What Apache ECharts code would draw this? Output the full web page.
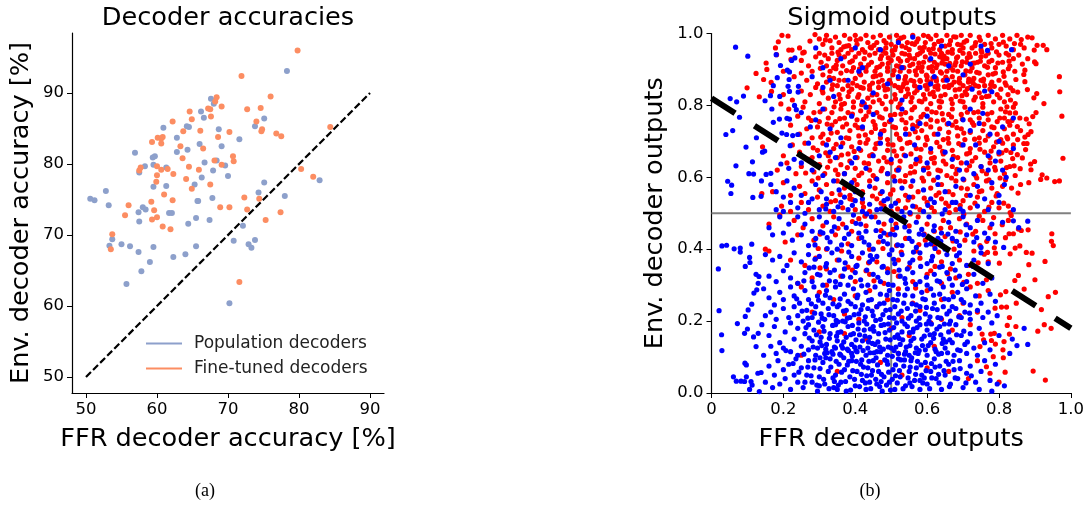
<!DOCTYPE html>
<html>
<head>
<meta charset="utf-8">
<script src="https://cdn.jsdelivr.net/npm/echarts@6/dist/echarts.min.js"></script>
<style>
html, body { margin: 0; padding: 0; background: #fff; }
#chart { width: 1087px; height: 506px; }
</style>
</head>
<body>
<div id="chart"></div>
<script>
// panel (a) values
const accTicks = [50, 60, 70, 80, 90];
const diagonal = [[50, 50], [90, 90]];
const population = [
[78.3,93.1],[67.6,89.2],[68,88.5],[66.2,87.4],[66.6,86.5],[75.1,86.4],[73.8,85.3],[64.2,85.3],[64.5,85.2],[60.9,85.1],
[68.7,84.9],[62.8,83.7],[71.6,83.5],[66,82.8],[69.1,82.5],[64.3,82],[62.8,81.7],[56.9,81.6],[59.7,81.1],[59.4,80.9],
[68.4,80.5],[66.7,80.2],[59.5,79.9],[58.3,79.7],[61.3,79.5],[69.6,79.8],[67.9,79.1],[57.5,78.8],[66.3,78.1],[70,78.3],
[75.1,77.4],[65.3,77.1],[61.3,76.9],[59.5,76.8],[52.8,76.2],[74.3,76],[78,75.5],[67.8,75.2],[50.6,75.1],[51.2,74.9],
[65.7,74.8],[65.8,74.8],[53.2,74.2],[58,73.9],[58.4,73.6],[57.4,73.2],[61.7,73.1],[62.1,73.1],[65.5,72.4],[57.5,71.9],
[67.4,72.1],[64.4,71.6],[72.1,71.3],[82.9,77.7],[53.7,69.4],[53.3,68.5],[55,68.7],[56.2,68.4],[57.4,67.6],[59.5,68.3],
[59,66.2],[62.3,66.9],[64,67.3],[65.5,68.4],[70.8,69.2],[72.9,68.7],[73.3,68.2],[73.8,69.3],[57.8,64.9],[55.7,63.1],[70.2,60.4]
];
const fineTuned = [
[79.8,96],[71.9,92.4],[76,89.5],[68.4,89.4],[68.2,88.8],[69.1,88.1],[74.6,87.9],[72.7,87.7],[67.2,87.8],[67.5,87.7],
[64.6,87.4],[67.6,86.7],[64.9,86.3],[62.2,86],[74,86],[84.4,85.2],[66.1,84.7],[74.8,84.9],[74.7,84.6],[63.7,84.6],
[70.2,84.5],[76.8,84.3],[77.5,83.9],[68.6,83.8],[60.1,83.7],[60.6,83.6],[60.8,83.8],[59.3,83.1],[60.6,82.9],[63.3,82.5],
[66.5,82.2],[63.6,80.8],[70.7,81.1],[70.8,80.4],[68.1,80.5],[60,79.7],[57.7,79.5],[57.5,79.1],[64.5,79.6],[69.1,79.9],
[60.6,79.2],[61.5,79.3],[65.9,79.2],[80.3,79.3],[62.3,78.6],[60,78.4],[82,78.2],[64.1,77.9],[59.9,77.5],[67.5,77.1],
[64.9,76.5],[61,75.7],[72.3,75.3],[74.4,75.1],[62.2,74.9],[59.2,74.7],[56,74.2],[68.9,73.9],[70.2,73.9],[72.7,73.6],
[59.6,73.5],[77.4,73.2],[55.5,72.8],[60,72.5],[59.3,72.2],[75.3,72.1],[60.8,71.2],[61.9,70.8],[53.7,70.1],[53.5,68],[71.6,63.4]
];

// panel (b) values
const outTicks = [0, 0.2, 0.4, 0.6, 0.8, 1];
const outTicksX = ['0', '0.2', '0.4', '0.6', '0.8', '1.0'];
const outTicksY = ['0.0', '0.2', '0.4', '0.6', '0.8', '1.0'];
const boundary = [[0, 0.82], [1, 0.18]];
const midH = [[0, 0.5], [1, 0.5]];
const midV = [[0.5, 0], [0.5, 1]];
const redOutputs = [
[.196,.995],[.213,.993],[.288,.997],[.3,.985],[.31,.97],[.32,.995],[.33,.98],[.335,.96],[.345,.99],[.355,.975],[.36,.955],[.37,.995],[.375,.965],[.385,.985],[.39,.955],[.4,.995],[.405,.97],[.415,.985],[.42,.955],[.43,.995],[.435,.975],[.445,.96],[.45,.99],[.46,.975],[.465,.955],[.47,.995],[.48,.98],[.485,.96],[.495,.99],[.5,.97],[.51,.955],[.515,.995],[.52,.98],[.53,.965],[.535,.99],[.545,.975],[.55,.955],[.56,.995],[.565,.97],[.575,.985],[.58,.96],[.59,.995],[.595,.975],[.605,.955],[.61,.985],[.62,.97],[.625,.995],[.635,.955],[.64,.98],[.65,.965],[.655,.995],[.665,.98],[.67,.955],[.68,.99],[.685,.97],[.695,.995],[.7,.96],[.71,.98],[.72,.995],[.725,.96],[.735,.975],[.745,.99],[.75,.955],[.76,.97],[.77,.995],[.78,.96],[.79,.985],[.8,.97],[.81,.995],[.82,.965],[.83,.985],[.84,.955],[.85,.995],[.86,.97],[.87,.96],[.88,.99],[.892,.988],[.906,.967],[.923,.967],[.933,.955],[.898,.954],[.186,.977],[.178,.96],[.245,.96],[.274,.979],[.254,.946],[.258,.948],[.215,.954],[.224,.954],[.181,.941],
[.221,.928],[.152,.918],[.154,.9],[.29,.935],[.3,.945],[.305,.92],[.315,.94],[.32,.91],[.325,.93],[.335,.945],[.34,.905],[.35,.925],[.355,.94],[.365,.91],[.37,.935],[.38,.945],[.385,.92],[.395,.905],[.4,.935],[.41,.945],[.415,.915],[.425,.93],[.43,.905],[.44,.94],[.445,.92],[.455,.945],[.46,.905],[.47,.93],[.475,.915],[.485,.945],[.49,.905],[.5,.925],[.505,.94],[.515,.91],[.52,.93],[.53,.945],[.535,.905],[.545,.925],[.55,.94],[.56,.915],[.565,.93],[.575,.905],[.58,.945],[.59,.92],[.595,.935],[.605,.905],[.61,.945],[.62,.92],[.625,.905],[.635,.935],[.64,.945],[.65,.915],[.655,.93],[.665,.905],[.67,.945],[.68,.92],[.685,.935],[.695,.91],[.7,.945],[.71,.92],[.72,.935],[.725,.905],[.735,.945],[.74,.92],[.75,.935],[.76,.91],[.77,.945],[.78,.925],[.79,.905],[.8,.94],[.81,.92],[.82,.945],[.83,.91],[.84,.93],[.855,.94],[.865,.915],[.88,.93],[.899,.921],[.903,.916],[.27,.91],[.25,.925],
[.124,.889],[.145,.872],[.166,.864],[.2,.895],[.23,.88],[.25,.89],[.265,.87],[.28,.895],[.295,.86],[.31,.885],[.32,.865],[.33,.895],[.34,.875],[.35,.855],[.36,.89],[.37,.87],[.38,.855],[.39,.895],[.4,.875],[.405,.855],[.415,.885],[.425,.865],[.43,.895],[.44,.855],[.45,.88],[.455,.895],[.465,.865],[.47,.885],[.48,.855],[.49,.895],[.495,.87],[.505,.885],[.51,.855],[.52,.875],[.525,.895],[.535,.86],[.54,.88],[.55,.895],[.555,.87],[.565,.855],[.57,.885],[.58,.87],[.585,.895],[.595,.855],[.6,.88],[.61,.865],[.615,.895],[.625,.875],[.63,.855],[.64,.89],[.645,.87],[.655,.895],[.66,.855],[.67,.88],[.675,.865],[.685,.895],[.69,.875],[.7,.855],[.705,.885],[.715,.865],[.72,.895],[.73,.875],[.735,.855],[.745,.89],[.75,.87],[.76,.855],[.77,.885],[.78,.865],[.79,.89],[.8,.87],[.814,.881],[.826,.902],[.844,.895],[.872,.898],[.869,.886],[.872,.866],[.817,.863],[.355,.87],[.475,.87],[.6,.87],[.968,.88],
[.099,.849],[.167,.839],[.133,.824],[.193,.804],[.2,.83],[.225,.815],[.25,.84],[.26,.81],[.275,.83],[.29,.85],[.3,.805],[.31,.835],[.325,.82],[.335,.845],[.345,.81],[.355,.83],[.365,.845],[.37,.805],[.38,.825],[.39,.845],[.395,.81],[.41,.83],[.415,.85],[.425,.805],[.435,.82],[.44,.845],[.45,.81],[.46,.83],[.465,.85],[.475,.805],[.485,.825],[.49,.845],[.5,.81],[.51,.83],[.52,.85],[.525,.805],[.54,.825],[.545,.845],[.555,.81],[.565,.835],[.575,.85],[.585,.81],[.59,.83],[.6,.845],[.61,.805],[.62,.825],[.63,.845],[.64,.81],[.65,.83],[.66,.85],[.67,.805],[.68,.825],[.69,.845],[.7,.81],[.71,.83],[.72,.85],[.73,.815],[.745,.835],[.755,.805],[.765,.825],[.775,.845],[.785,.81],[.795,.83],[.805,.845],[.815,.81],[.832,.849],[.839,.841],[.852,.837],[.879,.844],[.905,.833],[.897,.821],[.832,.815],[.969,.838],[.825,.83],[.845,.805],
[.925,.805],[.903,.78],[.894,.769],[.846,.779],[.83,.779],[.858,.765],[.876,.762],[.975,.77],[.215,.79],[.24,.77],[.255,.795],[.27,.765],[.285,.78],[.3,.755],[.315,.79],[.325,.765],[.335,.78],[.345,.755],[.36,.79],[.37,.765],[.38,.78],[.395,.795],[.405,.76],[.415,.785],[.43,.77],[.44,.795],[.45,.755],[.46,.78],[.475,.765],[.485,.79],[.495,.755],[.51,.775],[.52,.795],[.53,.76],[.54,.78],[.555,.765],[.565,.795],[.575,.755],[.59,.775],[.6,.79],[.61,.76],[.625,.78],[.635,.795],[.645,.76],[.66,.775],[.67,.79],[.68,.755],[.695,.775],[.705,.795],[.72,.76],[.73,.78],[.745,.765],[.755,.795],[.77,.76],[.78,.78],[.795,.755],[.805,.79],[.815,.765],[.825,.755],[.84,.795],
[.884,.749],[.851,.741],[.889,.727],[.881,.719],[.872,.712],[.852,.705],[.824,.707],[.22,.745],[.245,.72],[.265,.735],[.28,.71],[.295,.74],[.31,.72],[.325,.705],[.335,.745],[.35,.725],[.365,.74],[.375,.71],[.385,.73],[.4,.745],[.41,.715],[.42,.735],[.435,.705],[.445,.725],[.455,.745],[.47,.71],[.48,.73],[.49,.705],[.505,.74],[.515,.72],[.525,.705],[.54,.735],[.55,.72],[.56,.745],[.575,.71],[.585,.73],[.6,.705],[.61,.74],[.62,.72],[.635,.735],[.645,.705],[.66,.725],[.67,.745],[.685,.715],[.695,.735],[.705,.705],[.72,.725],[.73,.745],[.745,.71],[.755,.73],[.77,.715],[.78,.74],[.795,.72],[.805,.705],[.815,.735],[.83,.745],[.84,.72],[.86,.73],
[.869,.694],[.878,.694],[.874,.677],[.865,.654],[.851,.663],[.833,.669],[.978,.653],[.142,.685],[.2,.66],[.225,.69],[.245,.67],[.26,.695],[.28,.655],[.295,.675],[.31,.695],[.325,.66],[.34,.68],[.35,.655],[.365,.695],[.38,.665],[.39,.685],[.405,.655],[.415,.675],[.43,.695],[.44,.66],[.455,.68],[.465,.695],[.48,.655],[.49,.675],[.505,.69],[.515,.66],[.53,.68],[.545,.695],[.555,.665],[.57,.68],[.58,.655],[.595,.69],[.61,.67],[.62,.655],[.635,.685],[.645,.665],[.66,.695],[.67,.675],[.685,.655],[.695,.69],[.71,.665],[.72,.68],[.735,.655],[.745,.695],[.76,.67],[.775,.655],[.785,.685],[.8,.665],[.81,.695],[.82,.675],[.84,.69],
[.899,.644],[.888,.637],[.889,.621],[.859,.624],[.92,.607],[.183,.62],[.21,.64],[.235,.61],[.25,.63],[.27,.65],[.285,.615],[.3,.635],[.315,.61],[.33,.645],[.345,.62],[.36,.635],[.37,.61],[.385,.645],[.4,.625],[.41,.605],[.425,.64],[.44,.62],[.45,.605],[.465,.645],[.475,.625],[.49,.61],[.5,.64],[.515,.62],[.525,.645],[.54,.605],[.555,.63],[.565,.615],[.58,.645],[.59,.625],[.605,.61],[.62,.64],[.63,.62],[.645,.645],[.655,.605],[.67,.63],[.68,.61],[.695,.64],[.71,.62],[.725,.645],[.735,.605],[.75,.63],[.765,.61],[.775,.64],[.79,.62],[.805,.645],[.815,.61],[.83,.63],[.845,.605],
[.955,.588],[.968,.59],[.916,.594],[.933,.598],[.883,.585],[.853,.556],[.818,.593],[.14,.555],[.17,.56],[.2,.585],[.22,.55],[.245,.575],[.26,.555],[.28,.59],[.3,.565],[.32,.58],[.335,.555],[.35,.59],[.37,.57],[.385,.55],[.405,.58],[.42,.56],[.44,.59],[.455,.57],[.47,.555],[.49,.585],[.505,.565],[.525,.59],[.54,.55],[.555,.575],[.575,.56],[.59,.59],[.61,.57],[.625,.55],[.64,.58],[.66,.56],[.68,.59],[.695,.57],[.71,.55],[.73,.58],[.745,.56],[.765,.59],[.78,.57],[.795,.555],[.81,.575],[.835,.57],[.86,.58],
[.195,.52],[.22,.505],[.25,.53],[.27,.51],[.295,.545],[.31,.52],[.33,.505],[.345,.535],[.365,.515],[.385,.54],[.4,.51],[.42,.53],[.44,.505],[.46,.54],[.48,.52],[.5,.505],[.52,.535],[.54,.515],[.56,.545],[.58,.51],[.6,.53],[.62,.505],[.64,.54],[.66,.52],[.68,.51],[.7,.535],[.72,.515],[.74,.545],[.76,.505],[.78,.53],[.8,.515],[.834,.494],[.831,.502],[.826,.52],
[.809,.468],[.826,.48],[.854,.456],[.862,.452],[.881,.454],[.84,.443],[.828,.443],[.818,.432],[.789,.443],[.947,.443],[.16,.47],[.19,.495],[.23,.48],[.255,.46],[.28,.485],[.31,.465],[.34,.49],[.365,.47],[.39,.45],[.41,.485],[.43,.465],[.455,.49],[.48,.47],[.505,.455],[.525,.485],[.55,.465],[.575,.49],[.6,.47],[.62,.45],[.645,.48],[.665,.46],[.69,.485],[.71,.47],[.735,.45],[.755,.48],[.775,.46],
[.946,.422],[.951,.41],[.892,.389],[.876,.391],[.858,.409],[.845,.403],[.831,.387],[.766,.422],[.768,.391],[.759,.386],[.787,.404],[.79,.389],[.15,.4],[.16,.395],[.205,.42],[.24,.44],[.285,.425],[.32,.4],[.345,.44],[.38,.415],[.41,.43],[.44,.4],[.465,.42],[.49,.44],[.515,.41],[.54,.43],[.57,.395],[.595,.425],[.62,.41],[.65,.435],[.675,.4],[.705,.425],[.73,.395],
[.928,.366],[.883,.357],[.801,.361],[.854,.327],[.844,.313],[.9,.315],[.22,.37],[.26,.355],[.29,.375],[.32,.345],[.35,.37],[.38,.35],[.41,.375],[.43,.34],[.46,.365],[.49,.345],[.52,.37],[.55,.35],[.58,.375],[.61,.34],[.64,.365],[.665,.345],[.69,.37],[.72,.355],[.75,.34],[.77,.365],[.24,.305],[.28,.32],[.32,.3],[.36,.325],[.4,.31],[.44,.33],[.48,.305],[.52,.325],[.56,.31],[.6,.33],[.64,.305],[.68,.32],[.715,.33],[.74,.305],[.765,.315],
[.957,.28],[.937,.268],[.87,.289],[.848,.25],[.819,.282],[.804,.273],[.821,.239],[.807,.239],[.789,.236],[.77,.285],[.745,.27],[.72,.295],[.7,.25],[.67,.28],[.64,.26],[.6,.285],[.56,.25],[.52,.29],[.49,.26],[.44,.285],[.4,.27],[.34,.26],[.3,.28],[.25,.295],[.918,.232],[.829,.21],[.74,.225],[.69,.215],[.64,.205],[.58,.23],[.53,.21],[.46,.24],[.41,.205],[.37,.22],[.28,.225],
[.945,.18],[.926,.19],[.908,.172],[.823,.188],[.847,.185],[.787,.166],[.829,.164],[.753,.164],[.777,.164],[.757,.148],[.779,.146],[.814,.143],[.811,.12],[.747,.129],[.79,.136],[.72,.19],[.67,.175],[.61,.195],[.55,.16],[.5,.18],[.43,.15],[.37,.165],[.3,.17],[.25,.105],[.62,.13],[.52,.11],[.784,.101],[.812,.098],
[.895,.061],[.929,.036],[.765,.073],[.817,.058],[.775,.055],[.74,.09],[.715,.04],[.66,.06],[.6,.07],[.53,.05],[.47,.085],[.35,.06],[.8,.03]
];
// second pass over the crowded part of the red cloud
const redCore = [
[.317,.982],[.352,.948],[.368,.963],[.403,.981],[.427,.948],[.452,.967],[.473,.938],[.486,.973],[.503,.952],[.527,.987],[.541,.961],[.553,.932],[.571,.977],[.587,.951],[.603,.992],[.617,.958],[.632,.978],[.647,.937],[.662,.969],[.674,.991],[.691,.953],[.703,.976],[.717,.944],[.733,.966],[.748,.981],[.763,.938],[.778,.972],[.793,.949],[.812,.976],[.827,.94],[.843,.972],[.862,.983],
[.303,.903],[.328,.878],[.347,.912],[.376,.897],[.392,.924],[.412,.889],[.437,.913],[.458,.882],[.477,.951],[.492,.917],[.508,.897],[.523,.908],[.538,.872],[.552,.911],[.567,.896],[.573,.941],[.586,.907],[.598,.884],[.607,.926],[.616,.876],[.628,.913],[.637,.893],[.644,.928],[.652,.879],[.663,.917],[.672,.898],[.682,.932],[.691,.862],[.698,.921],[.708,.896],[.716,.873],[.727,.917],[.738,.892],[.748,.923],[.757,.873],[.768,.906],[.783,.887],[.797,.918],[.812,.893],[.828,.923],[.847,.872],
[.308,.842],[.337,.857],[.358,.818],[.383,.838],[.407,.823],[.422,.848],[.447,.829],[.467,.815],[.483,.843],[.498,.862],[.512,.818],[.527,.841],[.543,.863],[.558,.822],[.572,.842],[.581,.867],[.594,.818],[.603,.857],[.617,.837],[.626,.868],[.638,.826],[.648,.852],[.657,.872],[.667,.817],[.678,.843],[.688,.866],[.697,.827],[.712,.847],[.723,.868],[.734,.823],[.743,.853],[.756,.868],[.772,.826],[.787,.853],[.802,.821],[.822,.796],[.82,.856],
[.278,.758],[.302,.782],[.322,.748],[.341,.796],[.357,.763],[.376,.748],[.392,.776],[.408,.738],[.423,.761],[.438,.782],[.456,.736],[.468,.768],[.482,.747],[.498,.772],[.512,.738],[.527,.776],[.541,.752],[.558,.788],[.572,.742],[.583,.768],[.597,.748],[.613,.782],[.628,.756],[.642,.777],[.656,.748],[.668,.768],[.683,.738],[.698,.762],[.712,.781],[.726,.752],[.742,.782],[.758,.748],[.768,.776],[.786,.738],[.802,.765],[.818,.782],[.836,.758],
[.283,.682],[.304,.712],[.318,.668],[.333,.723],[.347,.692],[.362,.662],[.382,.708],[.397,.672],[.413,.697],[.428,.718],[.447,.663],[.458,.693],[.473,.728],[.492,.692],[.508,.673],[.523,.708],[.536,.662],[.552,.697],[.567,.727],[.583,.678],[.598,.712],[.612,.652],[.627,.697],[.643,.672],[.658,.708],[.673,.658],[.688,.694],[.702,.723],[.718,.668],[.732,.706],[.747,.678],[.762,.703],[.778,.673],[.793,.698],[.808,.668],[.822,.712],[.838,.652],
[.262,.612],[.297,.598],[.323,.628],[.352,.608],[.378,.627],[.397,.592],[.418,.612],[.437,.638],[.457,.597],[.472,.618],[.488,.643],[.507,.602],[.522,.626],[.538,.588],[.553,.612],[.568,.638],[.586,.598],[.602,.627],[.618,.592],[.637,.618],[.652,.637],[.668,.598],[.683,.622],[.702,.593],[.718,.632],[.738,.598],[.753,.618],[.772,.593],[.788,.628],[.803,.598],[.821,.627],[.842,.632],
[.332,.532],[.358,.552],[.392,.538],[.423,.517],[.448,.548],[.472,.528],[.498,.553],[.518,.512],[.547,.537],[.568,.518],[.592,.542],[.612,.516],[.633,.557],[.652,.528],[.672,.552],[.692,.522],[.712,.568],[.733,.528],[.752,.562],[.772,.517],[.792,.548],[.813,.528],[.785,.488],[.745,.492],[.702,.497],[.662,.502],[.638,.458],[.592,.442],[.553,.498],[.513,.47],[.472,.452],[.427,.492],[.392,.477],[.352,.458],[.302,.442],[.727,.442],[.692,.448],[.747,.41],[.672,.423],[.632,.392],[.577,.413],[.528,.392],[.477,.402],[.437,.362],[.362,.395],[.297,.402],[.742,.362],[.702,.308],[.657,.332],[.622,.352],[.568,.292],[.508,.338],[.452,.312],[.392,.342],[.302,.348],
[.512,.963],[.526,.923],[.538,.943],[.558,.972],[.577,.918],[.592,.962],[.613,.908],[.622,.943],[.641,.918],[.658,.948],[.677,.912],[.694,.968],[.712,.932],[.731,.918],[.752,.948],[.772,.921],[.492,.932],[.468,.908],[.442,.962],[.412,.902],[.382,.966],[.346,.902],[.532,.852],[.548,.832],[.563,.867],[.578,.812],[.608,.832],[.622,.852],[.633,.812],[.668,.857],[.692,.812],[.706,.838],[.728,.862],[.752,.822],[.777,.858],[.418,.802],[.448,.862],[.393,.862],[.362,.802]
];
const blueOutputs = [
[.067,.962],[.101,.937],[.18,.941],[.192,.911],[.232,.932],[.223,.925],[.29,.96],[.36,.93],[.42,.905],[.47,.955],[.52,.975],[.56,.99],[.61,.93],[.66,.91],[.72,.915],[.768,.953],[.835,.955],[.53,.905],[.4,.96],[.31,.905],[.75,.965],[.64,.965],
[.211,.898],[.217,.893],[.183,.877],[.172,.855],[.216,.872],[.213,.853],[.242,.853],[.217,.839],[.241,.837],[.052,.819],[.07,.81],[.089,.826],[.164,.827],[.149,.813],[.19,.825],[.28,.88],[.31,.85],[.34,.825],[.38,.87],[.41,.895],[.45,.835],[.49,.86],[.53,.815],[.58,.85],[.62,.88],[.655,.87],[.7,.885],[.725,.845],[.61,.86],[.76,.84],[.78,.838],[.52,.88],[.42,.81],[.33,.87],
[.078,.767],[.168,.79],[.231,.8],[.236,.788],[.189,.762],[.172,.753],[.21,.764],[.217,.762],[.059,.73],[.04,.719],[.125,.71],[.196,.723],[.209,.719],[.226,.716],[.24,.719],[.29,.76],[.31,.79],[.33,.735],[.36,.71],[.39,.77],[.42,.74],[.45,.775],[.47,.72],[.5,.76],[.53,.79],[.56,.735],[.6,.77],[.63,.72],[.66,.75],[.7,.76],[.72,.73],[.745,.75],[.775,.72],[.8,.7],[.755,.778],[.72,.79],[.275,.74],[.25,.78],[.43,.795],[.54,.72],[.58,.75],[.81,.74],[.84,.765],
[.096,.684],[.068,.632],[.114,.643],[.104,.61],[.117,.609],[.148,.673],[.142,.67],[.219,.688],[.193,.637],[.165,.611],[.152,.608],[.27,.695],[.3,.66],[.32,.69],[.33,.67],[.345,.655],[.36,.685],[.39,.64],[.41,.68],[.43,.625],[.45,.66],[.47,.695],[.5,.65],[.52,.62],[.54,.66],[.565,.69],[.6,.64],[.63,.6],[.65,.67],[.67,.65],[.69,.62],[.71,.64],[.73,.61],[.75,.63],[.77,.62],[.79,.645],[.81,.62],[.82,.6],[.84,.68],[.25,.64],[.28,.62],[.31,.605],[.37,.61],[.49,.61],[.57,.65],[.59,.62],[.61,.68],[.7,.69],[.735,.69],[.77,.66],[.8,.67],[.4,.655],[.23,.65],[.215,.625],
[.045,.589],[.056,.578],[.054,.555],[.115,.544],[.138,.547],[.139,.59],[.165,.58],[.18,.56],[.2,.545],[.21,.59],[.23,.57],[.25,.55],[.27,.53],[.29,.58],[.305,.56],[.32,.54],[.34,.59],[.355,.565],[.37,.545],[.39,.585],[.4,.56],[.42,.54],[.44,.575],[.46,.595],[.475,.56],[.49,.54],[.51,.59],[.53,.57],[.55,.545],[.56,.59],[.59,.565],[.61,.54],[.63,.58],[.65,.56],[.67,.53],[.68,.575],[.7,.595],[.72,.55],[.74,.575],[.76,.54],[.78,.585],[.8,.55],[.815,.58],[.18,.51],[.2,.505],[.22,.53],[.24,.515],[.26,.5],[.28,.54],[.3,.51],[.32,.525],[.34,.505],[.36,.53],[.38,.51],[.4,.535],[.42,.505],[.44,.525],[.46,.51],[.48,.535],[.5,.52],[.53,.505],[.56,.52],[.59,.505],[.62,.53],[.65,.51],[.68,.53],[.7,.505],[.74,.52],[.77,.51],[.8,.53],[.84,.51],
[.112,.414],[.19,.49],[.215,.47],[.16,.46],[.24,.49],[.26,.47],[.28,.45],[.3,.49],[.32,.475],[.335,.45],[.355,.485],[.375,.46],[.395,.495],[.415,.47],[.43,.45],[.445,.49],[.465,.475],[.48,.445],[.5,.48],[.515,.46],[.535,.49],[.55,.45],[.57,.475],[.585,.455],[.605,.49],[.62,.465],[.64,.445],[.66,.475],[.68,.45],[.7,.49],[.72,.46],[.74,.48],[.76,.445],[.78,.47],[.81,.475],[.84,.479],[.855,.46],[.88,.478],[.17,.44],[.2,.445],[.225,.425],[.25,.44],[.27,.41],[.29,.43],[.31,.445],[.33,.42],[.35,.4],[.37,.43],[.39,.41],[.41,.445],[.425,.42],[.45,.4],[.47,.435],[.49,.415],[.51,.44],[.53,.41],[.55,.43],[.57,.405],[.59,.44],[.61,.415],[.63,.43],[.65,.4],[.67,.43],[.69,.41],[.71,.44],[.73,.42],[.75,.405],[.77,.43],[.79,.42],[.813,.405],
[.029,.409],[.042,.411],[.063,.401],[.08,.403],[.08,.392],[.106,.377],[.107,.363],[.094,.352],[.019,.345],[.124,.33],[.132,.324],[.13,.305],[.15,.385],[.17,.37],[.19,.38],[.21,.355],[.23,.39],[.25,.365],[.27,.385],[.285,.35],[.3,.38],[.32,.36],[.335,.39],[.355,.37],[.37,.345],[.39,.38],[.405,.355],[.42,.39],[.44,.365],[.46,.38],[.475,.35],[.495,.385],[.51,.36],[.53,.385],[.545,.345],[.56,.37],[.58,.39],[.6,.36],[.615,.38],[.635,.35],[.655,.385],[.67,.36],[.69,.39],[.71,.355],[.73,.37],[.75,.39],[.77,.36],[.16,.325],[.18,.31],[.2,.34],[.22,.32],[.24,.305],[.26,.335],[.28,.31],[.295,.33],[.31,.3],[.33,.335],[.345,.31],[.365,.325],[.38,.3],[.4,.335],[.415,.315],[.435,.3],[.45,.33],[.47,.31],[.49,.335],[.505,.3],[.525,.325],[.54,.305],[.56,.335],[.58,.31],[.6,.3],[.62,.33],[.635,.31],[.655,.335],[.67,.3],[.69,.325],[.71,.31],[.73,.33],[.755,.305],[.78,.32],
[.126,.287],[.118,.278],[.112,.247],[.021,.229],[.102,.231],[.094,.213],[.145,.29],[.16,.265],[.175,.245],[.19,.28],[.2,.26],[.22,.295],[.23,.27],[.245,.25],[.26,.285],[.27,.26],[.285,.295],[.295,.27],[.31,.25],[.32,.285],[.33,.265],[.345,.295],[.355,.245],[.37,.275],[.38,.255],[.395,.29],[.405,.265],[.42,.245],[.43,.28],[.445,.26],[.455,.295],[.47,.275],[.48,.25],[.495,.285],[.505,.26],[.52,.275],[.535,.25],[.545,.29],[.56,.27],[.57,.245],[.585,.28],[.595,.26],[.61,.29],[.62,.25],[.635,.275],[.645,.295],[.66,.26],[.67,.24],[.685,.28],[.695,.26],[.71,.29],[.72,.245],[.735,.27],[.75,.25],[.775,.275],[.79,.255],[.15,.215],[.165,.225],[.18,.205],[.2,.235],[.215,.21],[.23,.24],[.24,.215],[.255,.2],[.265,.23],[.28,.21],[.29,.24],[.305,.22],[.315,.205],[.325,.235],[.34,.215],[.35,.24],[.365,.2],[.375,.23],[.385,.21],[.4,.24],[.41,.22],[.425,.2],[.435,.235],[.45,.215],[.46,.24],[.47,.205],[.485,.23],[.495,.21],[.51,.24],[.52,.22],[.53,.2],[.545,.235],[.555,.215],[.57,.2],[.58,.24],[.595,.22],[.605,.2],[.615,.235],[.63,.21],[.645,.24],[.655,.22],[.665,.2],[.68,.235],[.695,.21],[.705,.225],[.72,.205],[.74,.23],[.755,.21],[.77,.225],[.795,.215],
[.072,.193],[.028,.162],[.092,.166],[.1,.178],[.117,.156],[.13,.166],[.124,.129],[.029,.118],[.14,.19],[.16,.16],[.175,.185],[.19,.14],[.205,.17],[.22,.195],[.23,.15],[.24,.18],[.25,.13],[.26,.165],[.27,.19],[.28,.145],[.285,.175],[.295,.125],[.305,.155],[.31,.185],[.32,.135],[.33,.165],[.335,.115],[.345,.19],[.35,.145],[.36,.17],[.365,.125],[.375,.155],[.38,.185],[.39,.135],[.395,.165],[.405,.115],[.41,.195],[.42,.145],[.425,.175],[.435,.125],[.44,.155],[.45,.185],[.455,.135],[.465,.165],[.47,.115],[.48,.19],[.485,.15],[.495,.175],[.5,.125],[.51,.155],[.515,.195],[.525,.135],[.53,.17],[.54,.115],[.545,.185],[.555,.145],[.56,.17],[.57,.125],[.58,.19],[.585,.15],[.595,.12],[.6,.175],[.61,.14],[.62,.165],[.625,.115],[.635,.185],[.645,.15],[.65,.125],[.66,.17],[.67,.14],[.68,.19],[.685,.12],[.695,.16],[.705,.135],[.72,.165],[.73,.125],[.745,.18],[.76,.14],[.775,.12],[.8,.16],[.837,.15],[.87,.18],[.78,.195],[.88,.135],[.85,.132],[.83,.11],[.18,.11],[.2,.125],[.22,.115],[.24,.105],[.27,.12],[.165,.13],[.145,.105],[.29,.105],[.315,.11],[.345,.125],[.36,.105],[.39,.11],[.43,.105],[.46,.115],[.49,.105],[.52,.11],[.55,.105],[.575,.11],[.6,.105],[.64,.11],[.675,.105],[.71,.11],[.74,.105],
[.093,.083],[.097,.078],[.061,.045],[.069,.033],[.082,.033],[.092,.032],[.097,.045],[.11,.032],[.113,.022],[.106,.01],[.133,.004],[.129,.055],[.138,.057],[.15,.03],[.16,.075],[.17,.015],[.175,.05],[.185,.09],[.19,.025],[.2,.065],[.205,.04],[.215,.08],[.22,.01],[.23,.05],[.235,.095],[.24,.03],[.25,.07],[.255,.015],[.265,.05],[.27,.09],[.28,.03],[.285,.07],[.295,.005],[.3,.045],[.31,.085],[.315,.025],[.325,.06],[.33,.095],[.34,.015],[.345,.05],[.355,.08],[.36,.03],[.37,.065],[.375,.005],[.385,.045],[.39,.09],[.4,.02],[.405,.06],[.415,.08],[.42,.035],[.43,.01],[.435,.07],[.445,.05],[.45,.09],[.46,.025],[.465,.06],[.475,.005],[.48,.045],[.49,.08],[.495,.03],[.505,.065],[.51,.01],[.52,.095],[.525,.045],[.535,.075],[.54,.02],[.55,.06],[.555,.09],[.565,.035],[.57,.07],[.58,.01],[.585,.05],[.595,.085],[.6,.025],[.61,.06],[.62,.095],[.625,.04],[.635,.075],[.64,.01],[.65,.05],[.66,.08],[.665,.025],[.675,.065],[.685,.04],[.69,.09],[.7,.015],[.71,.055],[.72,.075],[.735,.03],[.75,.06],[.76,.09],[.775,.035],[.79,.08],[.795,.025],[.815,.02],[.745,.01],[.78,.005],[.44,.03],[.3,.02],[.26,.03],[.58,.035],[.35,.01]
];
// second pass over the crowded part of the blue cloud
const blueCore = [
[.263,.182],[.272,.153],[.283,.128],[.292,.162],[.298,.197],[.307,.132],[.313,.172],[.322,.112],[.328,.152],[.337,.188],[.342,.128],[.352,.168],[.357,.108],[.368,.142],[.372,.198],[.381,.118],[.387,.162],[.392,.102],[.402,.148],[.408,.178],[.413,.128],[.418,.092],[.427,.158],[.432,.192],[.441,.112],[.448,.138],[.452,.172],[.458,.098],[.463,.142],[.472,.188],[.478,.122],[.483,.168],[.488,.088],[.497,.148],[.503,.102],[.507,.182],[.513,.128],[.518,.162],[.527,.092],[.532,.148],[.538,.192],[.542,.128],[.551,.168],[.557,.098],[.563,.152],[.572,.182],[.578,.118],[.583,.078],[.592,.158],[.598,.192],[.603,.132],[.612,.082],[.618,.152],[.627,.178],[.632,.108],[.642,.138],[.648,.192],[.657,.112],[.663,.148],[.672,.088],[.682,.162],[.692,.118],[.702,.172],[.712,.142],
[.207,.118],[.227,.082],[.243,.058],[.257,.108],[.268,.072],[.277,.048],[.288,.092],[.293,.022],[.302,.068],[.312,.038],[.318,.098],[.327,.012],[.332,.072],[.338,.042],[.347,.088],[.353,.022],[.362,.058],[.368,.098],[.373,.032],[.378,.078],[.387,.008],[.393,.062],[.398,.038],[.403,.088],[.412,.018],[.417,.052],[.423,.072],[.428,.028],[.438,.088],[.443,.012],[.448,.062],[.457,.038],[.462,.078],[.468,.018],[.473,.052],[.482,.092],[.487,.022],[.493,.058],[.498,.008],[.503,.038],[.512,.078],[.517,.028],[.523,.062],[.533,.012],[.537,.092],[.547,.042],[.553,.072],[.558,.018],[.568,.052],[.573,.088],[.588,.028],[.597,.062],[.607,.012],[.613,.042],[.622,.072],[.633,.028],[.647,.062],[.653,.088],[.662,.018],[.678,.042],[.692,.068],[.708,.028],[.723,.048],
[.237,.262],[.252,.228],[.268,.208],[.278,.248],[.287,.222],[.298,.258],[.308,.208],[.317,.272],[.327,.218],[.338,.248],[.347,.202],[.358,.262],[.367,.228],[.378,.208],[.388,.248],[.397,.218],[.407,.272],[.416,.232],[.428,.212],[.437,.258],[.447,.228],[.457,.202],[.468,.248],[.477,.218],[.488,.272],[.497,.232],[.508,.208],[.517,.258],[.528,.228],[.538,.272],[.548,.208],[.558,.248],[.568,.228],[.578,.208],[.588,.262],[.598,.238],[.608,.212],[.618,.272],[.628,.232],[.638,.208],[.648,.262],[.662,.228],[.673,.268],[.688,.212],[.702,.252],[.718,.222],
[.257,.312],[.272,.348],[.288,.372],[.302,.328],[.318,.352],[.328,.312],[.342,.342],[.358,.302],[.372,.362],[.387,.322],[.402,.352],[.418,.298],[.432,.342],[.448,.372],[.463,.322],[.478,.352],[.492,.302],[.507,.372],[.522,.342],[.538,.318],[.552,.362],[.568,.302],[.582,.352],[.598,.322],[.612,.368],[.628,.312],[.642,.352],[.662,.318],[.678,.342],[.698,.302],[.728,.352],
[.288,.412],[.303,.448],[.322,.432],[.342,.462],[.362,.412],[.382,.442],[.402,.472],[.418,.432],[.438,.412],[.458,.452],[.478,.422],[.498,.442],[.518,.412],[.538,.462],[.558,.422],[.578,.442],[.598,.412],[.618,.452],[.638,.422],[.658,.442],[.682,.422],[.708,.468],[.738,.432],[.318,.512],[.352,.518],[.392,.522],[.432,.498],[.472,.512],[.512,.528],[.552,.502],[.602,.522],[.642,.498],[.692,.512],[.322,.402],[.382,.392],[.442,.382],[.502,.398],[.562,.392],[.622,.402],[.682,.382],
[.302,.142],[.318,.122],[.338,.108],[.348,.158],[.362,.132],[.378,.122],[.398,.128],[.412,.162],[.422,.118],[.437,.142],[.452,.112],[.468,.128],[.492,.128],[.508,.118],[.522,.152],[.537,.108],[.552,.132],[.567,.112],[.587,.132],[.608,.162],[.622,.122],[.638,.162],[.652,.142],[.352,.198],[.392,.188],[.442,.178],[.492,.192],[.562,.178],[.612,.192],[.662,.192],[.402,.118],[.382,.088],[.432,.048],[.472,.032],[.512,.048],[.552,.028],[.592,.042],[.632,.052],[.342,.032],[.302,.098]
];

const FONT = 'DejaVu Sans';
const BLUE_DOT = '#8da0cb';
const ORANGE_DOT = '#fc8d62';

const axisCommon = {
    type: 'value',
    splitLine: { show: false },
    axisLine: { show: true, onZero: false, lineStyle: { color: '#000', width: 1.2 } },
    axisTick: { show: true, length: 5, lineStyle: { color: '#000', width: 1 } },
    nameLocation: 'middle',
};
const labelStyle = { color: '#000', fontFamily: FONT, fontSize: 16.5, margin: 8 };
const nameStyle = { color: '#000', fontFamily: FONT, fontSize: 25.6 };

function accAxis(gridIndex, min, max, name, nameGap) {
    return Object.assign({}, axisCommon, {
        gridIndex, min, max, name, nameGap,
        nameTextStyle: nameStyle,
        axisTick: Object.assign({}, axisCommon.axisTick, { customValues: accTicks }),
        axisLabel: Object.assign({}, labelStyle, { customValues: accTicks }),
    });
}

function outAxis(gridIndex, name, nameGap, labels) {
    return Object.assign({}, axisCommon, {
        gridIndex, min: 0, max: 1, interval: 0.2, name, nameGap,
        nameTextStyle: nameStyle,
        axisTick: Object.assign({}, axisCommon.axisTick, { customValues: outTicks }),
        axisLabel: Object.assign({}, labelStyle, {
            customValues: outTicks,
            formatter: (v) => labels[outTicks.findIndex((t) => Math.abs(t - v) < 1e-6)],
        }),
    });
}

const titleStyle = { color: '#000', fontFamily: FONT, fontSize: 25.6, fontWeight: 'normal' };
const captionStyle = { color: '#000', fontFamily: 'Liberation Serif', fontSize: 18, fontWeight: 'normal' };

const chart = echarts.init(document.getElementById('chart'), null, { renderer: 'canvas' });
chart.setOption({
    animation: false,
    backgroundColor: '#fff',
    title: [
        { text: 'Decoder accuracies', left: 228, top: 5, padding: 0, textAlign: 'center', textStyle: titleStyle },
        { text: 'Sigmoid outputs', left: 892, top: 5, padding: 0, textAlign: 'center', textStyle: titleStyle },
        { text: '(a)', left: 205, top: 482, padding: 0, textAlign: 'center', textStyle: captionStyle },
        { text: '(b)', left: 870, top: 482, padding: 0, textAlign: 'center', textStyle: captionStyle },
    ],
    grid: [
        { left: 72, top: 33, width: 312, height: 360 },
        { left: 711.5, top: 33.5, width: 360, height: 359.5 },
    ],
    legend: {
        left: 141,
        top: 330,
        orient: 'vertical',
        data: ['Population decoders', 'Fine-tuned decoders'],
        icon: 'rect',
        itemWidth: 36,
        itemHeight: 2,
        itemGap: 8,
        textStyle: { color: '#222', fontFamily: FONT, fontSize: 17, padding: [0, 0, 0, 7] },
    },
    xAxis: [
        accAxis(0, 48.03, 91.97, 'FFR decoder accuracy [%]', 33),
        outAxis(1, 'FFR decoder outputs', 33, outTicksX),
    ],
    yAxis: [
        accAxis(0, 47.75, 98.45, 'Env. decoder accuracy [%]', 38),
        outAxis(1, 'Env. decoder outputs', 43, outTicksY),
    ],
    series: [
        { type: 'line', xAxisIndex: 0, yAxisIndex: 0, data: diagonal, showSymbol: false, z: 1, lineStyle: { color: '#000', width: 2.2, type: [7, 3] } },
        { name: 'Population decoders', type: 'scatter', xAxisIndex: 0, yAxisIndex: 0, data: population, symbolSize: 6, z: 2, itemStyle: { color: BLUE_DOT, opacity: 1 } },
        { name: 'Fine-tuned decoders', type: 'scatter', xAxisIndex: 0, yAxisIndex: 0, data: fineTuned, symbolSize: 6, z: 3, itemStyle: { color: ORANGE_DOT, opacity: 1 } },
        { type: 'line', xAxisIndex: 1, yAxisIndex: 1, data: midH, showSymbol: false, z: 1, lineStyle: { color: '#808080', width: 2 } },
        { type: 'line', xAxisIndex: 1, yAxisIndex: 1, data: midV, showSymbol: false, z: 1, lineStyle: { color: '#808080', width: 2 } },
        { type: 'scatter', xAxisIndex: 1, yAxisIndex: 1, data: redOutputs.concat(redCore), symbolSize: 5.2, z: 2, itemStyle: { color: '#ff0000', opacity: 1 } },
        { type: 'scatter', xAxisIndex: 1, yAxisIndex: 1, data: blueOutputs.concat(blueCore), symbolSize: 5.2, z: 3, itemStyle: { color: '#0000ff', opacity: 1 } },
        { type: 'line', xAxisIndex: 1, yAxisIndex: 1, data: boundary, showSymbol: false, z: 4, lineStyle: { color: '#000', width: 6, type: [28, 23], cap: 'butt' } },
    ],
});
</script>
</body>
</html>
